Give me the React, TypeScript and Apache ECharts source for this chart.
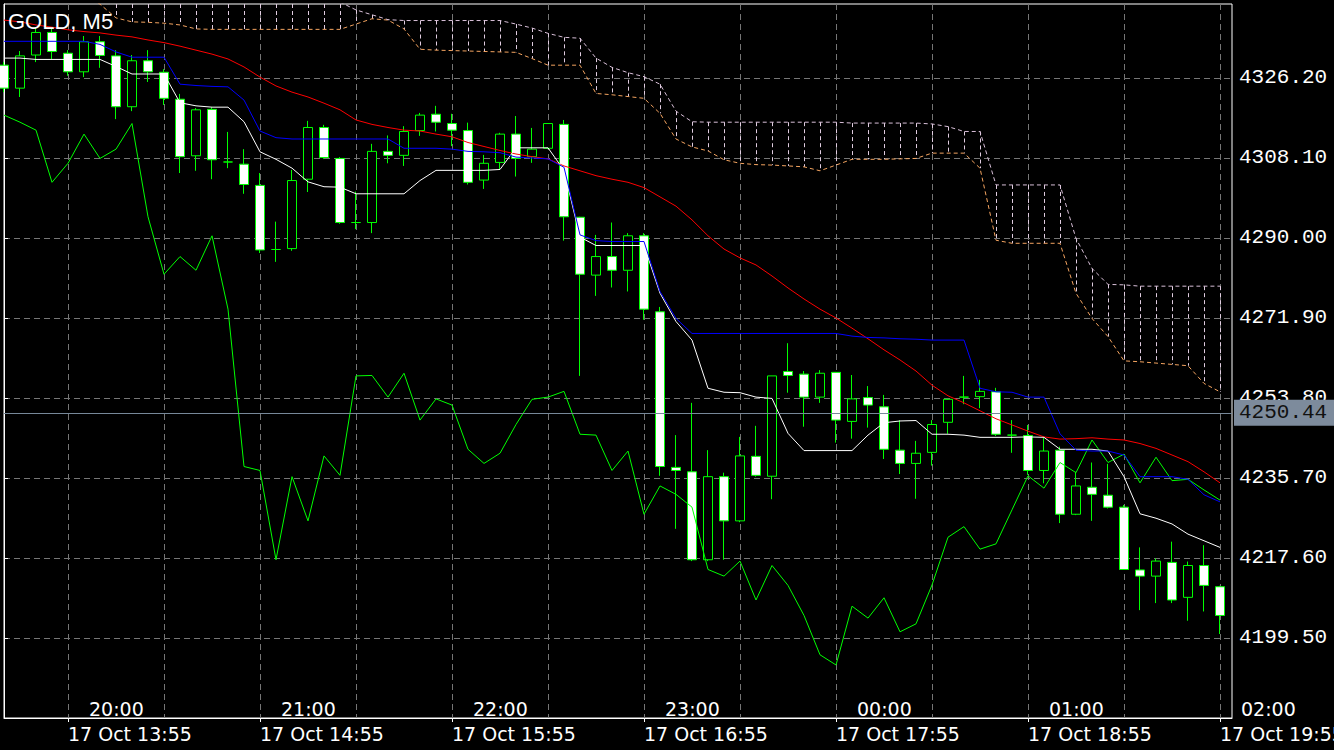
import React, { useEffect, useRef } from 'react';
import * as echarts from 'echarts';

// ---- Data (GOLD, M5) ----
const opens = [
  4329.1, 4323.9, 4331.4, 4336.5, 4331.8, 4327.6, 4334.4, 4331.2, 4319.7, 4330.1,
  4327.5, 4321.4, 4308.6, 4319.1, 4307.2, 4306.7, 4301.9, 4287.4, 4287.6, 4303.3,
  4315.0, 4308.0, 4293.5, 4293.5, 4309.6, 4308.7, 4314.3, 4318.0, 4315.9, 4314.3,
  4303.1, 4307.1, 4313.5, 4308.4, 4310.3, 4315.7, 4294.7, 4281.6, 4285.8, 4282.7,
  4290.5, 4273.3, 4238.1, 4237.1, 4217.2, 4236.0, 4226.0, 4240.6, 4236.1, 4259.8,
  4259.2, 4254.0, 4259.6, 4248.5, 4253.9, 4251.8, 4242.0, 4239.0, 4241.5, 4248.3,
  4254.0, 4254.1, 4255.2, 4245.4, 4245.3, 4237.4, 4242.0, 4227.5, 4233.6, 4231.8,
  4229.1, 4214.9, 4213.5, 4216.6, 4208.7, 4215.9, 4211.1,
];
const closes = [
  4323.9, 4331.2, 4336.5, 4332.2, 4327.6, 4334.4, 4331.3, 4319.7, 4330.1, 4327.6,
  4321.6, 4308.4, 4319.0, 4307.7, 4307.2, 4302.1, 4287.3, 4287.4, 4303.0, 4315.0,
  4308.2, 4293.5, 4293.5, 4309.6, 4308.7, 4314.1, 4317.8, 4316.2, 4314.4, 4302.6,
  4306.9, 4313.5, 4308.0, 4310.1, 4315.9, 4294.8, 4281.8, 4285.8, 4282.7, 4290.5,
  4273.9, 4238.3, 4237.4, 4217.2, 4236.0, 4226.0, 4240.7, 4236.3, 4258.8, 4258.9,
  4254.0, 4259.4, 4248.8, 4253.6, 4252.2, 4242.2, 4239.0, 4241.3, 4247.8, 4253.5,
  4254.0, 4255.3, 4245.6, 4245.4, 4237.4, 4241.8, 4227.5, 4233.9, 4232.0, 4229.1,
  4215.0, 4213.5, 4216.9, 4208.1, 4215.9, 4211.4, 4204.6,
];
const lows = [
  4323.0, 4321.9, 4329.8, 4330.5, 4326.7, 4326.4, 4328.5, 4316.9, 4318.7, 4325.3,
  4320.1, 4304.7, 4305.2, 4303.3, 4305.8, 4300.0, 4286.6, 4284.6, 4287.1, 4300.4,
  4307.9, 4293.2, 4292.0, 4291.1, 4306.9, 4306.3, 4313.1, 4314.1, 4310.8, 4302.1,
  4301.1, 4305.6, 4303.9, 4307.0, 4310.1, 4289.4, 4258.8, 4276.9, 4278.8, 4277.9,
  4271.5, 4236.2, 4224.2, 4216.9, 4216.9, 4217.2, 4225.7, 4236.0, 4230.9, 4255.0,
  4247.3, 4252.7, 4243.7, 4244.6, 4247.1, 4240.0, 4236.6, 4231.0, 4238.5, 4245.7,
  4252.4, 4251.5, 4245.2, 4241.4, 4236.4, 4234.5, 4225.5, 4227.3, 4226.0, 4228.8,
  4214.9, 4205.8, 4207.4, 4207.4, 4203.4, 4205.5, 4200.4,
];
const highs = [
  4329.8, 4332.3, 4337.5, 4337.5, 4332.5, 4335.7, 4335.7, 4332.5, 4331.4, 4332.5,
  4328.2, 4322.6, 4319.4, 4319.6, 4314.0, 4310.1, 4304.7, 4293.7, 4305.4, 4316.5,
  4315.6, 4308.3, 4300.5, 4311.3, 4313.2, 4315.3, 4318.3, 4319.9, 4318.1, 4316.1,
  4308.8, 4313.8, 4317.6, 4314.9, 4316.0, 4316.7, 4294.8, 4290.7, 4293.5, 4291.1,
  4291.1, 4274.4, 4245.4, 4252.7, 4242.0, 4236.9, 4245.0, 4247.5, 4258.8, 4266.2,
  4259.9, 4260.1, 4259.7, 4259.0, 4256.5, 4254.5, 4248.8, 4244.1, 4248.8, 4253.6,
  4258.8, 4257.9, 4256.1, 4248.8, 4247.7, 4244.8, 4242.8, 4237.1, 4239.2, 4238.9,
  4229.6, 4220.0, 4217.5, 4221.3, 4216.8, 4220.5, 4211.3,
];
const maRed = [
  4339.3, 4338.9, 4338.2, 4337.7, 4337.1, 4336.7, 4336.4, 4335.9, 4335.5, 4334.8,
  4334.2, 4333.4, 4332.5, 4331.6, 4330.5, 4328.7, 4326.4, 4324.4, 4323.0, 4321.9,
  4320.5, 4319.0, 4316.7, 4315.7, 4315.0, 4314.4, 4314.2, 4313.5, 4312.9, 4311.6,
  4310.7, 4309.8, 4309.0, 4308.4, 4307.9, 4306.3, 4305.2, 4304.1, 4303.3, 4302.6,
  4301.4, 4299.3, 4297.2, 4294.1, 4290.5, 4287.5, 4285.5, 4283.9, 4281.4, 4278.7,
  4276.2, 4273.9, 4271.9, 4269.6, 4267.2, 4264.7, 4262.4, 4259.9, 4256.7, 4254.3,
  4252.7, 4250.9, 4249.1, 4247.7, 4246.3, 4245.0, 4244.5, 4244.6, 4244.8, 4244.5,
  4244.3, 4243.5, 4242.4, 4240.9, 4239.4, 4237.1, 4234.6,
];
const kijun = [
  4334.5, 4334.5, 4334.5, 4334.5, 4334.5, 4334.5, 4333.8, 4332.1, 4330.9, 4330.9,
  4330.9, 4324.8, 4324.5, 4324.3, 4324.2, 4321.2, 4314.2, 4312.7, 4312.4, 4312.4,
  4312.4, 4312.4, 4312.4, 4312.4, 4312.4, 4310.3, 4310.3, 4310.3, 4310.1, 4309.6,
  4309.5, 4309.3, 4308.3, 4308.1, 4307.9, 4306.0, 4290.7, 4289.4, 4289.2, 4289.2,
  4289.2, 4277.9, 4271.8, 4268.4, 4268.4, 4268.4, 4268.4, 4268.4, 4268.4, 4268.4,
  4268.4, 4268.4, 4268.4, 4267.8, 4267.5, 4267.4, 4267.2, 4267.1, 4266.9, 4266.9,
  4266.9, 4256.0, 4255.2, 4255.1, 4254.0, 4254.0, 4245.7, 4242.0, 4241.8, 4241.8,
  4240.9, 4236.0, 4236.0, 4236.0, 4235.4, 4231.9, 4230.3,
];
const tenkan = [
  4330.7, 4330.7, 4330.4, 4330.4, 4330.4, 4330.4, 4330.4, 4328.8, 4327.1, 4327.1,
  4327.1, 4320.6, 4319.9, 4319.6, 4319.6, 4316.3, 4309.5, 4307.8, 4305.8, 4302.7,
  4301.6, 4301.5, 4300.0, 4300.0, 4300.0, 4300.0, 4303.0, 4305.3, 4305.3, 4305.3,
  4305.3, 4305.5, 4310.4, 4310.4, 4310.4, 4305.3, 4290.2, 4288.3, 4288.3, 4288.3,
  4288.3, 4277.5, 4271.1, 4266.9, 4256.0, 4255.1, 4255.0, 4254.0, 4253.7, 4245.8,
  4241.9, 4241.9, 4241.9, 4241.9, 4245.4, 4248.2, 4248.6, 4248.7, 4245.6, 4245.6,
  4245.4, 4244.9, 4244.9, 4244.9, 4245.0, 4244.9, 4242.2, 4242.2, 4242.2, 4241.8,
  4236.0, 4227.6, 4226.6, 4225.3, 4223.0, 4221.5, 4220.0,
];
const chikou = [
  4317.8, 4316.2, 4314.4, 4302.6, 4306.9, 4313.5, 4308.0, 4310.1, 4315.9, 4294.8,
  4281.8, 4285.8, 4282.7, 4290.5, 4273.9, 4238.3, 4237.4, 4217.2, 4236.0, 4226.0,
  4240.7, 4236.3, 4258.8, 4258.9, 4254.0, 4259.4, 4248.8, 4253.6, 4252.2, 4242.2,
  4239.0, 4241.3, 4247.8, 4253.5, 4254.0, 4255.3, 4245.6, 4245.4, 4237.4, 4241.8,
  4227.5, 4233.9, 4232.0, 4229.1, 4215.0, 4213.5, 4216.9, 4208.1, 4215.9, 4211.4,
  4204.6, 4195.7, 4193.4, 4206.7, 4204.0, 4208.6, 4200.9, 4202.7, 4211.5, 4222.3,
  4224.7, 4219.6, 4220.8, 4228.5, 4236.2, 4233.4, 4239.2, 4236.9, 4244.3, 4239.2,
  4241.1, 4234.6, 4240.4, 4235.1, 4235.4, 4233.0, 4230.7,
];
const spanA = [
  4348.4, 4347.9, 4347.5, 4346.8, 4346.1, 4345.2, 4342.9, 4339.8, 4338.9, 4338.8,
  4338.6, 4338.2, 4337.3, 4337.2, 4337.2, 4337.2, 4337.2, 4337.2, 4337.2, 4337.2,
  4337.2, 4337.2, 4338.4, 4339.6, 4339.3, 4337.3, 4332.7, 4332.5, 4332.4, 4332.3,
  4332.2, 4332.1, 4332.0, 4330.6, 4329.1, 4329.1, 4329.1, 4322.7, 4322.4, 4322.0,
  4321.6, 4318.2, 4312.4, 4310.6, 4309.7, 4307.7, 4306.9, 4306.6, 4306.5, 4306.3,
  4306.1, 4305.2, 4306.5, 4307.8, 4307.8, 4307.8, 4307.9, 4308.0, 4309.2, 4309.2,
  4309.2, 4305.8, 4289.5, 4288.8, 4288.8, 4288.8, 4288.8, 4277.5, 4271.8, 4267.7,
  4262.2, 4262.0, 4261.7, 4261.4, 4261.1, 4257.1, 4255.2,
];
const spanB = [
  4351.0, 4351.0, 4350.5, 4350.0, 4349.5, 4349.0, 4343.5, 4343.5, 4343.5, 4343.5,
  4343.5, 4344.0, 4344.0, 4344.0, 4344.0, 4344.0, 4344.0, 4344.0, 4344.0, 4344.0,
  4344.0, 4343.4, 4341.6, 4340.5, 4339.4, 4339.2, 4339.2, 4339.2, 4339.2, 4339.2,
  4339.2, 4339.2, 4338.4, 4337.5, 4336.3, 4335.4, 4335.2, 4330.7, 4328.6, 4327.4,
  4326.5, 4324.8, 4318.7, 4316.3, 4316.2, 4316.2, 4316.2, 4316.2, 4316.2, 4316.2,
  4316.2, 4316.2, 4316.2, 4316.0, 4316.0, 4316.0, 4316.0, 4316.0, 4315.8, 4315.2,
  4314.1, 4314.1, 4302.0, 4302.0, 4302.0, 4302.0, 4302.0, 4289.9, 4283.1, 4279.5,
  4279.4, 4279.1, 4279.1, 4279.1, 4279.1, 4279.1, 4279.1,
];
const dateLabels = [
  '17 Oct 13:55', '17 Oct 14:55', '17 Oct 15:55', '17 Oct 16:55',
  '17 Oct 17:55', '17 Oct 18:55', '17 Oct 19:55',
];
const hourLabels = ['20:00', '21:00', '22:00', '23:00', '00:00', '01:00', '02:00'];
const labelBars = [4, 16, 28, 40, 52, 64, 76];
const gridBars = [4, 10, 16, 22, 28, 34, 40, 46, 52, 58, 64, 70, 76];
const priceTicks = [4199.5, 4217.6, 4235.7, 4253.8, 4271.9, 4290.0, 4308.1, 4326.2];
const currentPrice = 4250.44;
const yMin = 4181.4;
const yMax = 4342.94;
const xMax = 76.75;

const GRID_COLOR = '#767676';
const MONO = "'Liberation Mono', 'DejaVu Sans Mono', monospace";
const SANS = "'DejaVu Sans', sans-serif";

function buildOption(): any {
  const candleData = opens.map((o, i) => [i, o, closes[i], lows[i], highs[i]]);
  const toXY = (arr: number[]) => arr.map((v, i) => [i, v]);
  const cloudData = spanA.map((a, i) => [i, a, spanB[i]]);
  const labelAt = (list: string[]) => (v: number) => {
    const idx = labelBars.indexOf(Math.round(v));
    return idx >= 0 ? list[idx] : '';
  };

  return {
    animation: false,
    backgroundColor: '#000',
    title: {
      text: 'GOLD, M5',
      left: 8,
      top: 10,
      padding: 0,
      textStyle: { color: '#fff', fontSize: 22, fontWeight: 'normal', fontFamily: "'Liberation Sans', Arial, sans-serif" },
    },
    grid: {
      left: 4, top: 4, right: 102, bottom: 32,
      show: true, borderColor: '#fff', borderWidth: 1, backgroundColor: '#000',
      containLabel: false, outerBoundsMode: 'none',
    },
    xAxis: [
      {
        type: 'value', min: 0, max: xMax, position: 'bottom',
        axisLine: { show: true, lineStyle: { color: '#fff' } },
        axisTick: { show: true, customValues: labelBars, length: 4, lineStyle: { color: '#fff' } },
        axisLabel: {
          show: true, customValues: labelBars, formatter: labelAt(dateLabels),
          align: 'left', color: '#fff', fontFamily: SANS, fontSize: 19, margin: 6,
        },
        splitLine: { show: false },
      },
      {
        type: 'value', min: 0, max: xMax, position: 'bottom', offset: 0,
        axisLine: { show: false }, axisTick: { show: false },
        axisLabel: {
          show: true, inside: true, customValues: labelBars, formatter: labelAt(hourLabels),
          align: 'left', padding: [0, 0, 0, 21], color: '#fff', fontFamily: SANS, fontSize: 19, margin: 0,
        },
        splitLine: { show: false },
      },
      {
        type: 'value', min: 0, max: xMax, position: 'bottom', offset: 0,
        axisLine: { show: false },
        axisTick: { show: false, customValues: gridBars },
        axisLabel: { show: false },
        splitLine: { show: true, lineStyle: { color: GRID_COLOR, width: 1, type: [6, 4] } },
      },
    ],
    yAxis: {
      type: 'value', position: 'right', min: yMin, max: yMax,
      axisLine: { show: true, lineStyle: { color: '#fff' } },
      axisTick: { show: true, customValues: priceTicks, length: 4, lineStyle: { color: '#fff' } },
      axisLabel: {
        customValues: priceTicks, formatter: (v: number) => v.toFixed(2),
        color: '#fff', fontFamily: MONO, fontSize: 21, margin: 7,
      },
      splitLine: { show: true, lineStyle: { color: GRID_COLOR, width: 1, type: [6, 4] } },
    },
    series: [
      {
        type: 'custom', name: 'Kumo', xAxisIndex: 0, clip: true, z: 1,
        data: cloudData,
        encode: { x: 0, y: [1, 2] },
        renderItem: (params: any, api: any) => {
          const x = api.value(0);
          const a = api.coord([x, api.value(1)]);
          const b = api.coord([x, api.value(2)]);
          const cs = params.coordSys;
          const y1 = Math.max(Math.min(a[1], b[1]), cs.y);
          const y2 = Math.min(Math.max(a[1], b[1]), cs.y + cs.height);
          if (y2 <= y1) return { type: 'group', children: [] };
          const px = Math.round(a[0]) + 0.5;
          return {
            type: 'line',
            shape: { x1: px, y1, x2: px, y2 },
            style: { stroke: '#e0cce0', lineWidth: 1, lineDash: [4, 3] },
          };
        },
      },
      {
        type: 'line', name: 'Senkou Span A', data: toXY(spanA), symbol: 'none', z: 2,
        lineStyle: { color: '#f4a460', width: 1, type: [4, 3] },
      },
      {
        type: 'line', name: 'Senkou Span B', data: toXY(spanB), symbol: 'none', z: 2,
        lineStyle: { color: '#d8bfd8', width: 1, type: [4, 3] },
      },
      {
        type: 'candlestick', name: 'GOLD', data: candleData, barWidth: 9, z: 3,
        encode: { x: 0, y: [1, 2, 3, 4] },
        itemStyle: {
          color: '#000', color0: '#fff',
          borderColor: '#00ff00', borderColor0: '#00ff00', borderColorDoji: '#00ff00',
          borderWidth: 1,
        },
        markLine: {
          silent: true, symbol: ['none', 'none'], animation: false,
          data: [{ yAxis: currentPrice }],
          lineStyle: { color: '#778899', width: 1, type: 'solid' },
          label: {
            show: true, position: 'end', distance: 2,
            formatter: currentPrice.toFixed(2),
            color: '#111', backgroundColor: '#7d8b9c',
            padding: [3, 8, 2, 5], fontFamily: MONO, fontSize: 21,
          },
        },
      },
      {
        type: 'line', name: 'Chikou', data: toXY(chikou), symbol: 'none', z: 4,
        lineStyle: { color: '#00ff00', width: 1 },
      },
      {
        type: 'line', name: 'MA', data: toXY(maRed), symbol: 'none', z: 4,
        lineStyle: { color: '#ff0000', width: 1 },
      },
      {
        type: 'line', name: 'Tenkan', data: toXY(tenkan), symbol: 'none', z: 4,
        lineStyle: { color: '#ffffff', width: 1 },
      },
      {
        type: 'line', name: 'Kijun', data: toXY(kijun), symbol: 'none', z: 4,
        lineStyle: { color: '#0000ff', width: 1 },
      },
    ],
  };
}

export default function App() {
  const ref = useRef<HTMLDivElement>(null);
  useEffect(() => {
    if (!ref.current) return;
    const chart = echarts.init(ref.current, null, { renderer: 'svg' });
    chart.setOption(buildOption());
    return () => chart.dispose();
  }, []);
  return (
    <div
      ref={ref}
      style={{ position: 'fixed', left: 0, top: 0, width: 1334, height: 750, background: '#000' }}
    />
  );
}
